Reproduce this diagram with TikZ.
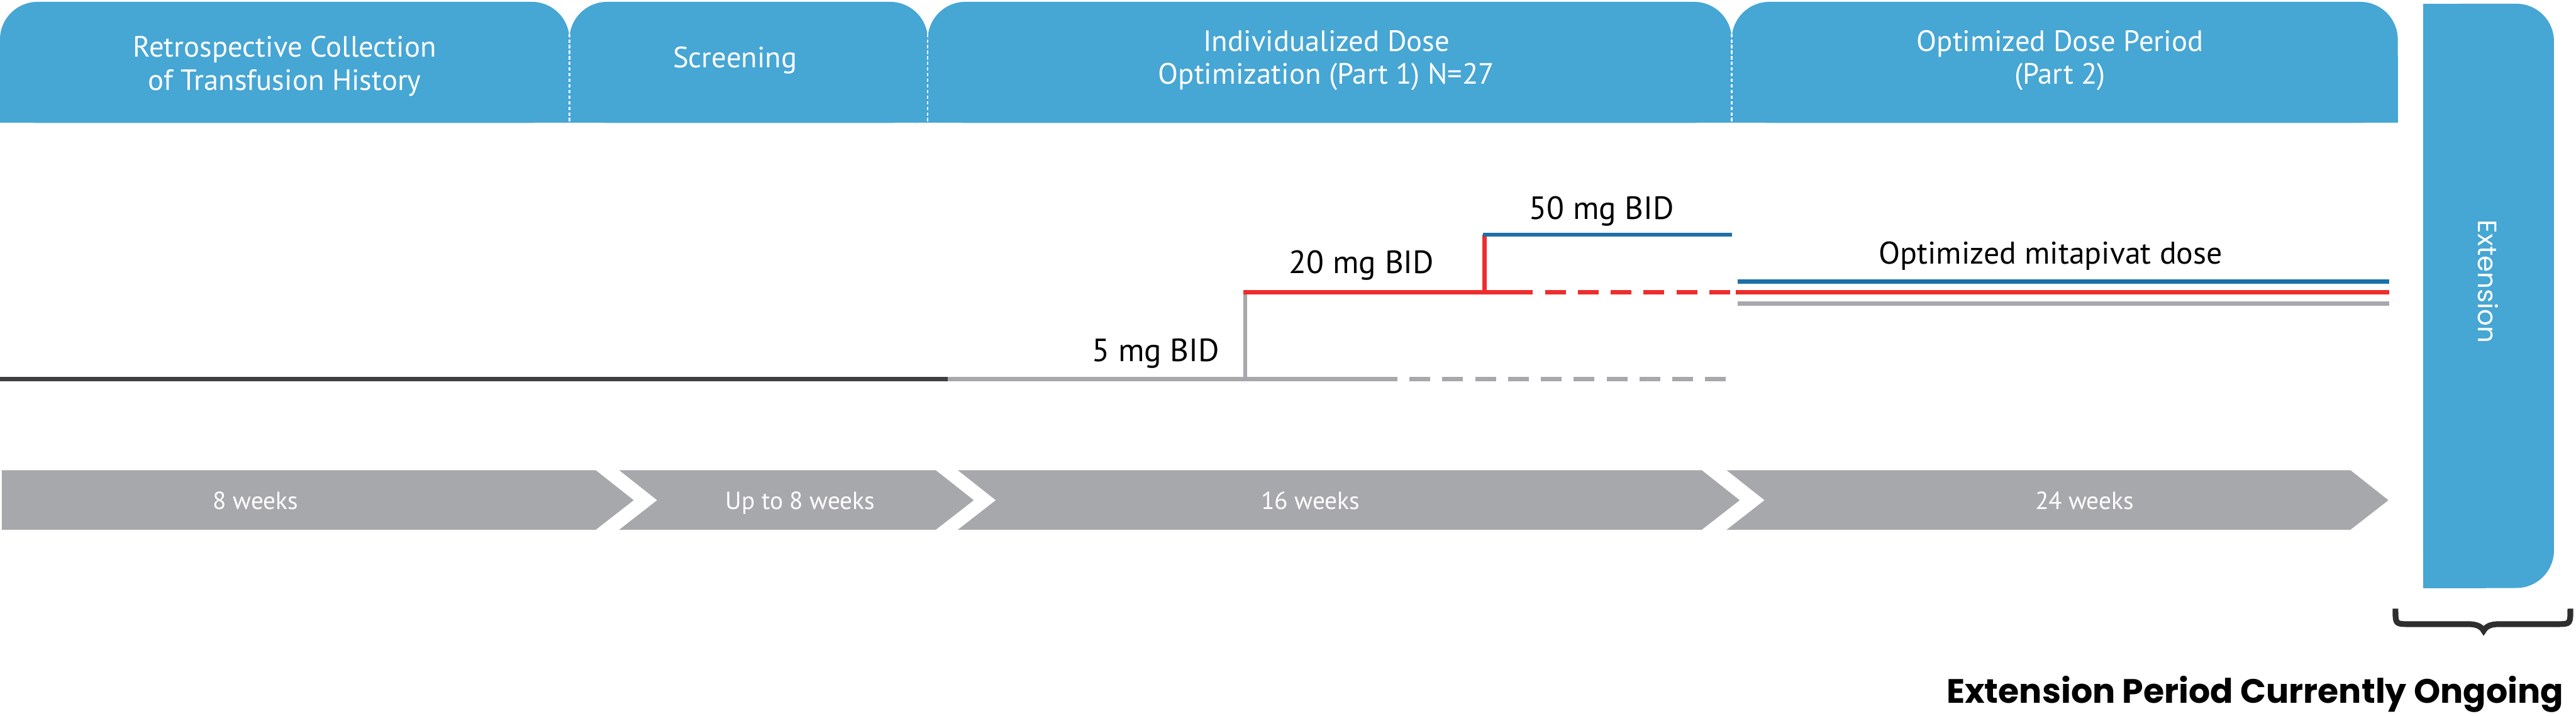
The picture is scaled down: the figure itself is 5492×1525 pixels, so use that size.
\documentclass[tikz,border=0pt]{standalone}
\usepackage{fontspec}
\setmainfont{PT Sans}
\newfontfamily\geofont{Poppins}
\usepackage{tikz}
\usetikzlibrary{positioning}

\definecolor{tabblue}{HTML}{46A6D4}
\definecolor{chevgray}{HTML}{A7A8AB}
\definecolor{darkdose}{HTML}{3F3F41}
\definecolor{reddose}{HTML}{EE2E2E}
\definecolor{bluedose}{HTML}{1C70A9}
\definecolor{bracegray}{HTML}{2E2E2E}

\tikzset{
	tab/.style={fill=tabblue},
	divider/.style={white, line width=0.85pt, dash pattern=on 2pt off 1.4pt},
	tabtext/.style={text=white, align=center, inner sep=0pt, font=\fontsize{17.8}{19.9}\selectfont},
	chevron/.style={fill=chevgray},
	weektext/.style={text=white, anchor=base, inner sep=0pt, font=\fontsize{15}{18}\selectfont},
	dose/.style={line width=2.42pt},
	dashes/.style={dash pattern=on 12.52pt off 7.40pt, dash phase=12.52pt},
	doselabel/.style={anchor=base, inner sep=0pt, font=\fontsize{19.5}{22}\selectfont},
}

\begin{document}
\begin{tikzpicture}[x=0.01cm, y=-0.01cm]
	\useasboundingbox (0,0) rectangle (5492,1525);

	% TOP: study periods
	\foreach \a/\b in {0/1214, 1214/1978, 1978/3692, 3692/5112}{
		\fill[tab, rounded corners=0.8cm] (\a,4) rectangle (\b,262);
		\fill[tab] (\a,120) rectangle (\b,262);
	}
	\foreach \x in {1214,1978,3692}{
		\draw[divider] (\x,60) -- (\x,262);
	}
	\node[tabtext] (retro) at (607,141) {Retrospective Collection\\of Transfusion History};
	\node[tabtext, anchor=base] (screen) at (1567,144) {Screening};
	\node[tabtext] (indiv) at (2828,129) {Individualized Dose\\Optimization (Part 1) N=27};
	\node[tabtext] (optper) at (4392,129) {Optimized Dose Period\\(Part 2)};

	% extension bar
	\fill[tab, rounded corners=0.8cm] (5166,8) rectangle (5445,1253);
	\fill[tab] (5166,8) rectangle (5300,1253);
	\node[text=white, rotate=-90, inner sep=0pt, font=\geofont\fontsize{16}{18}\selectfont] (ext) at (5305,600) {Extension};

	% MIDDLE: dose steps
	\coordinate (g0) at (0,808);
	\coordinate (g1) at (2021,808);
	\coordinate (g2) at (2655,808);
	\coordinate (g3) at (2979,808);
	\coordinate (g4) at (3681,808);
	\coordinate (r0) at (2651,623);
	\coordinate (r1) at (3165,623);
	\coordinate (r2) at (3268,623);
	\coordinate (r3) at (3689,623);
	\coordinate (b0) at (3161,500);
	\coordinate (b1) at (3693,500);

	\draw[dose, chevgray] (g2) -- (g2 |- r0);
	\draw[dose, reddose] (r1) -- (r1 |- b0);
	\draw[dose, darkdose] (g0) -- (g1);
	\draw[dose, chevgray] (g1) -- (g3);
	\draw[dose, chevgray, dashes] (g3) -- (g4);
	\draw[dose, reddose] (r0) -- (r2);
	\draw[dose, reddose, dashes] (r2) -- (r3);
	\draw[dose, bluedose] (b0) -- (b1);

	% optimized dose
	\draw[dose, bluedose] (3704,600) -- (5094,600);
	\draw[dose, reddose] (3700,623) -- (5094,623);
	\draw[dose, chevgray] (3704,647) -- (5094,647);

	\node[doselabel] (five) at (2464,770) {5 mg BID};
	\node[doselabel] (twenty) at (2903,583) {20 mg BID};
	\node[doselabel] (fifty) at (3415,467) {50 mg BID};
	\node[doselabel, font=\fontsize{19}{22}\selectfont] (optdose) at (4372,562) {Optimized mitapivat dose};

	% BOTTOM: durations
	\fill[chevron] (4,1002) -- (1270,1002) -- (1351,1066) -- (1270,1129) -- (4,1129) -- cycle;
	\foreach \a/\b in {1320/1995, 2042/3628, 3681/5011}{
		\fill[chevron] (\a,1002) -- (\b,1002) -- (\b+81,1066) -- (\b,1129) -- (\a,1129) -- (\a+81,1066) -- cycle;
	}
	\node[weektext] (wk1) at (545,1085) {8 weeks};
	\node[weektext] (wk2) at (1706,1085) {Up to 8 weeks};
	\node[weektext] (wk3) at (2794,1085) {16 weeks};
	\node[weektext] (wk4) at (4444,1085) {24 weeks};

	% brace under extension
	\draw[bracegray, line width=3.5pt, line join=miter] (5107,1297) .. controls (5107,1330) .. (5135,1330) -- (5262,1330) .. controls (5280,1330) and (5290,1335) .. (5295,1344) .. controls (5300,1335) and (5310,1330) .. (5328,1330) -- (5452,1330) .. controls (5480,1330) .. (5480,1297);
	\node[anchor=base east, inner sep=0pt, font=\geofont\bfseries\fontsize{20.5}{24}\selectfont] (ongoing) at (5466,1498) {Extension Period Currently Ongoing};
\end{tikzpicture}
\end{document}
